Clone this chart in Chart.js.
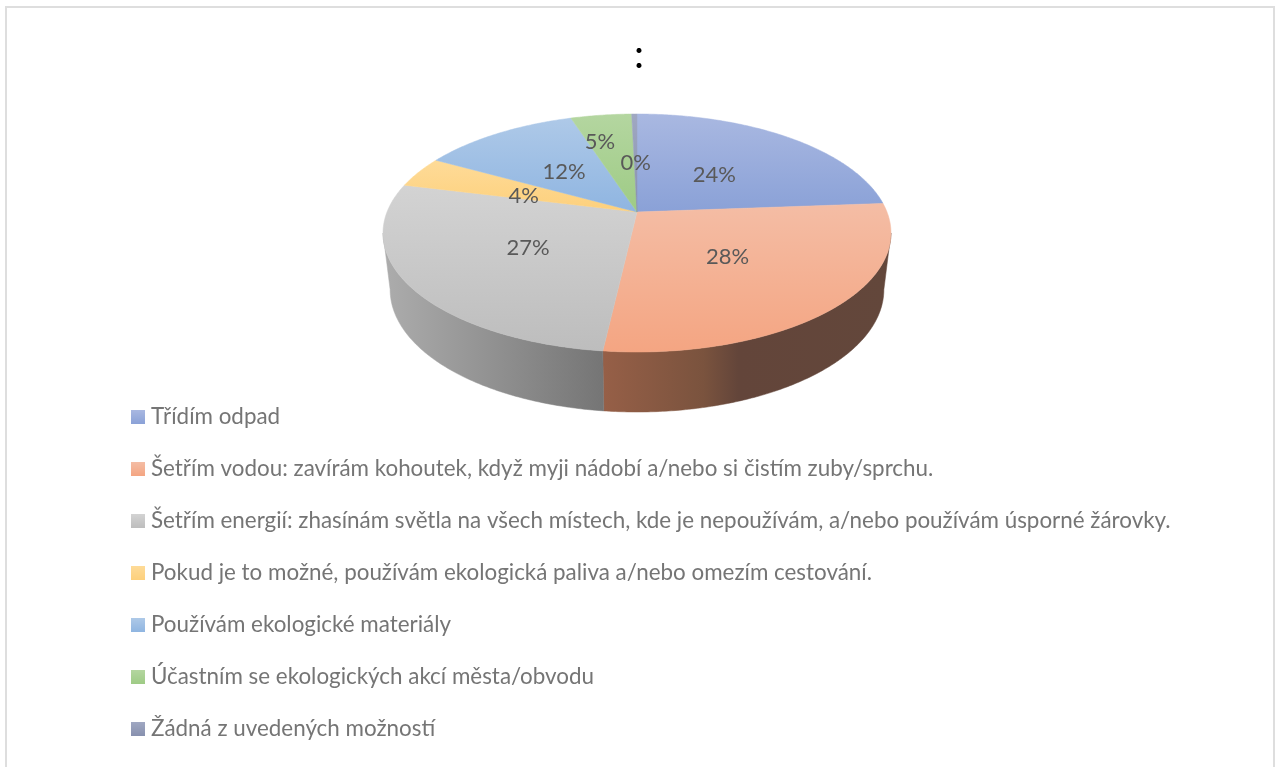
<!DOCTYPE html>
<html><head><meta charset="utf-8">
<script src="https://cdn.jsdelivr.net/npm/chart.js@4"></script>
<style>
html,body{margin:0;padding:0;background:#fff;overflow:hidden;width:1280px;height:767px}
#frame{position:absolute;left:5px;top:6px;width:1266px;height:800px;border:2px solid #dedede}
canvas{position:absolute;left:0;top:0}
</style></head><body>
<div id="frame"></div>
<canvas id="c" width="1280" height="767"></canvas>
<script>
const categories = [
  "Třídím odpad",
  "Šetřím vodou: zavírám kohoutek, když myji nádobí a/nebo si čistím zuby/sprchu.",
  "Šetřím energií: zhasínám světla na všech místech, kde je nepoužívám, a/nebo používám úsporné žárovky.",
  "Pokud je to možné, používám ekologická paliva a/nebo omezím cestování.",
  "Používám ekologické materiály",
  "Účastním se ekologických akcí města/obvodu",
  "Žádná z uvedených možností"
];
const shares = [23.8, 28, 27.1, 4.2, 11.9, 4.6, 0.4];
const faceTop = ["#a9b8e1","#f4bda5","#d3d3d3","#fedb98","#aec9e8","#b4d6a0","#a0a8c2"];
const faceBottom = ["#8aa1d7","#f4a582","#bdbdbd","#fdd07c","#8fb5e1","#9ecb85","#8790ae"];
const wallStops = [
  ["#5a6a90","#5a6a90"],
  [[0,"#965f47"],[0.35,"#7a533e"],[0.47,"#63453a"],[1,"#63473b"]],
  [[0,"#acacac"],[1,"#757575"]],
  ["#a08a50","#a08a50"],["#6a85a0","#6a85a0"],["#6a8a58","#6a8a58"],["#606880","#606880"]
];
const labelNudge = [[-1,2],[0,2],[-3,2],[-3,4],[0,1],[-18,-19],[0,3]];
const PIE = {cx:637, cy:212, rx:250, ry:115.3, k:0.1765, depth:60, shrink:0.972};
const LEGEND_BOTTOM = 769.8;

function project(angle, r){
  const u = r*Math.cos(angle), v = r*Math.sin(angle), d = 1-PIE.k*v;
  return [PIE.cx + PIE.rx*u/d, PIE.cy + PIE.ry*v/d, v];
}
function projectBottom(angle){
  const p = project(angle,1);
  return [PIE.cx + (p[0]-PIE.cx)*PIE.shrink, p[1] + PIE.depth*(0.93+0.07*p[2])];
}
const ArcEl = Chart.registry.getElement('arc');
ArcEl.prototype.draw = function(ctx){
  const {startAngle:a, endAngle:b} = this.getProps(['startAngle','endAngle']);
  const i = this.$context ? this.$context.dataIndex : 0;
  const steps = Math.max(4, Math.ceil((b-a)/0.01));
  const lim = Math.asin(PIE.k);
  for (const [s,e] of [[a,b],[a-2*Math.PI,b-2*Math.PI]]){
    const w0 = Math.max(s,lim), w1 = Math.min(e,Math.PI-lim);
    if (w1>w0){
      const n = Math.ceil((w1-w0)/0.01), top=[], bot=[];
      for(let j=0;j<=n;j++){const t=w0+(w1-w0)*j/n; top.push(project(t,1)); bot.push(projectBottom(t));}
      const g = ctx.createLinearGradient(i===2?385:604,0,i===2?604:890,0);
      wallStops[i].forEach((c,q)=>{ if(Array.isArray(c)) g.addColorStop(c[0],c[1]); else g.addColorStop(q,c); });
      ctx.beginPath();
      top.forEach((p,j)=> j?ctx.lineTo(p[0],p[1]):ctx.moveTo(p[0],p[1]));
      bot.reverse().forEach(p=>ctx.lineTo(p[0],p[1]));
      ctx.closePath();
      ctx.fillStyle=g; ctx.strokeStyle=g; ctx.lineWidth=0.5;
      ctx.fill(); ctx.stroke();
    }
  }
  const pts=[[PIE.cx,PIE.cy]];
  for(let j=0;j<=steps;j++) pts.push(project(a+(b-a)*j/steps,1));
  const ys=pts.map(p=>p[1]);
  const g=ctx.createLinearGradient(0,Math.min(...ys),0,Math.max(...ys));
  g.addColorStop(0,faceTop[i]); g.addColorStop(1,faceBottom[i]);
  ctx.beginPath();
  pts.forEach((p,j)=> j?ctx.lineTo(p[0],p[1]):ctx.moveTo(p[0],p[1]));
  ctx.closePath();
  ctx.fillStyle=g; ctx.strokeStyle=g; ctx.lineWidth=0.5;
  ctx.fill(); ctx.stroke();
};
function swatch(i){
  const s=document.createElement('canvas'); s.width=14; s.height=14;
  const x=s.getContext('2d'), g=x.createLinearGradient(0,0,0,14);
  g.addColorStop(0,faceTop[i]); g.addColorStop(1,faceBottom[i]);
  x.fillStyle=g; x.fillRect(0,0,14,14); return s;
}
const pieLabels = {
  id:'pieLabels',
  afterLayout(chart){ chart.legend.bottom = LEGEND_BOTTOM; },
  afterDatasetsDraw(chart){
    const ctx=chart.ctx, meta=chart.getDatasetMeta(0), total=shares.reduce((p,c)=>p+c,0);
    ctx.save();
    ctx.font='22px Lato'; ctx.fillStyle='#595959'; ctx.textAlign='center'; ctx.textBaseline='middle';
    meta.data.forEach((arc,i)=>{
      const p=project((arc.startAngle+arc.endAngle)/2,0.49);
      ctx.fillText(Math.round(shares[i]/total*100)+'%',p[0]+labelNudge[i][0],p[1]+labelNudge[i][1]);
    });
    ctx.restore();
  }
};
new Chart(document.getElementById('c'),{
  type:'pie',
  data:{labels:categories,datasets:[{data:shares,backgroundColor:faceBottom,borderWidth:0}]},
  plugins:[pieLabels],
  options:{
    responsive:false,animation:false,
    layout:{padding:{left:106.6,right:108.6,top:0,bottom:0}},
    plugins:{
      tooltip:{enabled:false},
      title:{display:true,text:':',color:'#000',font:{family:'Lato',size:40,weight:'normal'},padding:{top:31,bottom:30}},
      legend:{
        position:'chartArea',align:'end',
        labels:{
          color:'#757575',font:{family:'Lato',size:22.4},padding:29.6,
          usePointStyle:true,pointStyleWidth:3.6,
          generateLabels(chart){
            return Chart.overrides.doughnut.plugins.legend.labels.generateLabels(chart)
              .map((l,i)=>Object.assign(l,{pointStyle:swatch(i)}));
          }
        }
      }
    }
  }
});
</script>
</body></html>
